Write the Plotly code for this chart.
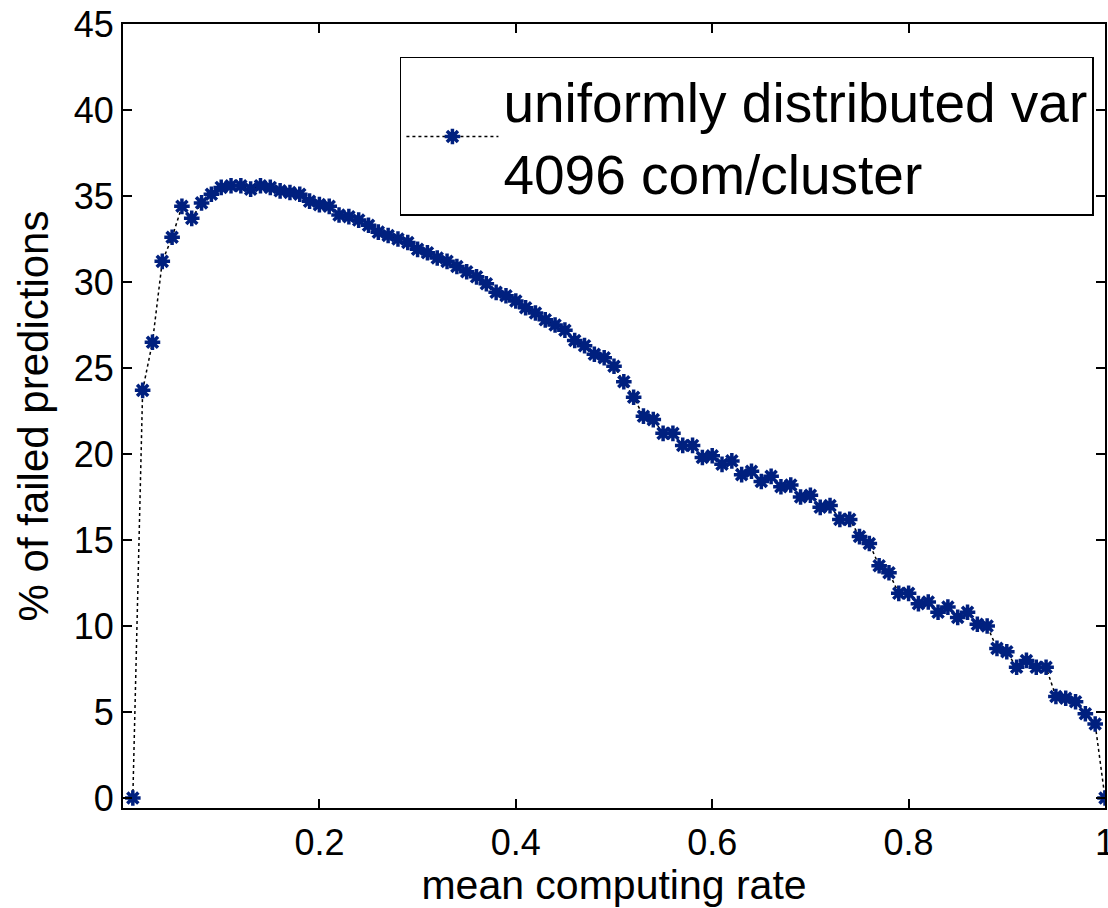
import plotly.graph_objects as go

# mean computing rate (x) and % of failed predictions (y)
rate = [round(0.01 * k, 2) for k in range(1, 101)]
failed = [
    0.0, 23.7, 26.5, 31.2, 32.6, 34.4, 33.7, 34.6, 35.1, 35.5,
    35.6, 35.6, 35.4, 35.6, 35.5, 35.3, 35.2, 35.1, 34.7, 34.5,
    34.4, 33.9, 33.8, 33.6, 33.3, 32.9, 32.7, 32.5, 32.3, 31.9,
    31.7, 31.4, 31.2, 30.9, 30.6, 30.3, 29.9, 29.4, 29.2, 28.9,
    28.5, 28.2, 27.8, 27.5, 27.2, 26.6, 26.3, 25.8, 25.6, 25.1,
    24.2, 23.3, 22.2, 22.0, 21.2, 21.2, 20.5, 20.5, 19.8, 19.9,
    19.4, 19.6, 18.8, 19.0, 18.4, 18.7, 18.1, 18.2, 17.5, 17.6,
    16.9, 17.0, 16.2, 16.2, 15.2, 14.8, 13.5, 13.1, 11.9, 11.9,
    11.3, 11.4, 10.8, 11.1, 10.5, 10.8, 10.1, 10.0, 8.7, 8.5,
    7.6, 8.0, 7.6, 7.6, 5.9, 5.8, 5.6, 4.9, 4.3, 0.0,
]

series_name = "uniformly distributed var<br>4096 com/cluster"
x_ticks = [0.2, 0.4, 0.6, 0.8, 1.0]
x_tick_text = ["0.2", "0.4", "0.6", "0.8", "1"]
y_ticks = [0, 5, 10, 15, 20, 25, 30, 35, 40, 45]

FONT = "Liberation Sans, Arial, sans-serif"
NAVY = "#00207f"

fig = go.Figure()
fig.add_trace(go.Scatter(
    x=rate, y=failed, name=series_name, mode="lines+markers",
    line=dict(color="black", width=1.5, dash="3px,3px"),
    marker=dict(symbol="asterisk-open", size=13, color=NAVY,
                line=dict(color=NAVY, width=3.5)),
))

axis_common = dict(
    showline=True, linecolor="black", linewidth=2, mirror="ticks",
    ticks="inside", ticklen=9, tickwidth=1.5, tickcolor="black",
    showgrid=False, zeroline=False, automargin=False,
    tickfont=dict(family=FONT, size=36, color="black"),
)

fig.update_layout(
    width=1108, height=908,
    margin=dict(l=123, r=3, t=24, b=100),
    paper_bgcolor="white", plot_bgcolor="white",
    font=dict(family=FONT, color="black"),
    showlegend=True,
    legend=dict(
        x=0.282, y=0.958, xanchor="left", yanchor="top",
        bgcolor="white", bordercolor="black", borderwidth=1.5,
        font=dict(family=FONT, size=55, color="black"),
        itemwidth=92,
    ),
    xaxis=dict(
        range=[0, 1], tickvals=x_ticks, ticktext=x_tick_text,
        ticklabeloverflow="allow", ticklabelstandoff=2,
        title=dict(text="mean computing rate", standoff=6,
                   font=dict(family=FONT, size=41, color="black")),
        **axis_common,
    ),
    yaxis=dict(
        range=[-0.58, 45], tickvals=y_ticks,
        title=dict(text="% of failed predictions", standoff=12,
                   font=dict(family=FONT, size=42, color="black")),
        **axis_common,
    ),
)

fig.write_html("out.html")
